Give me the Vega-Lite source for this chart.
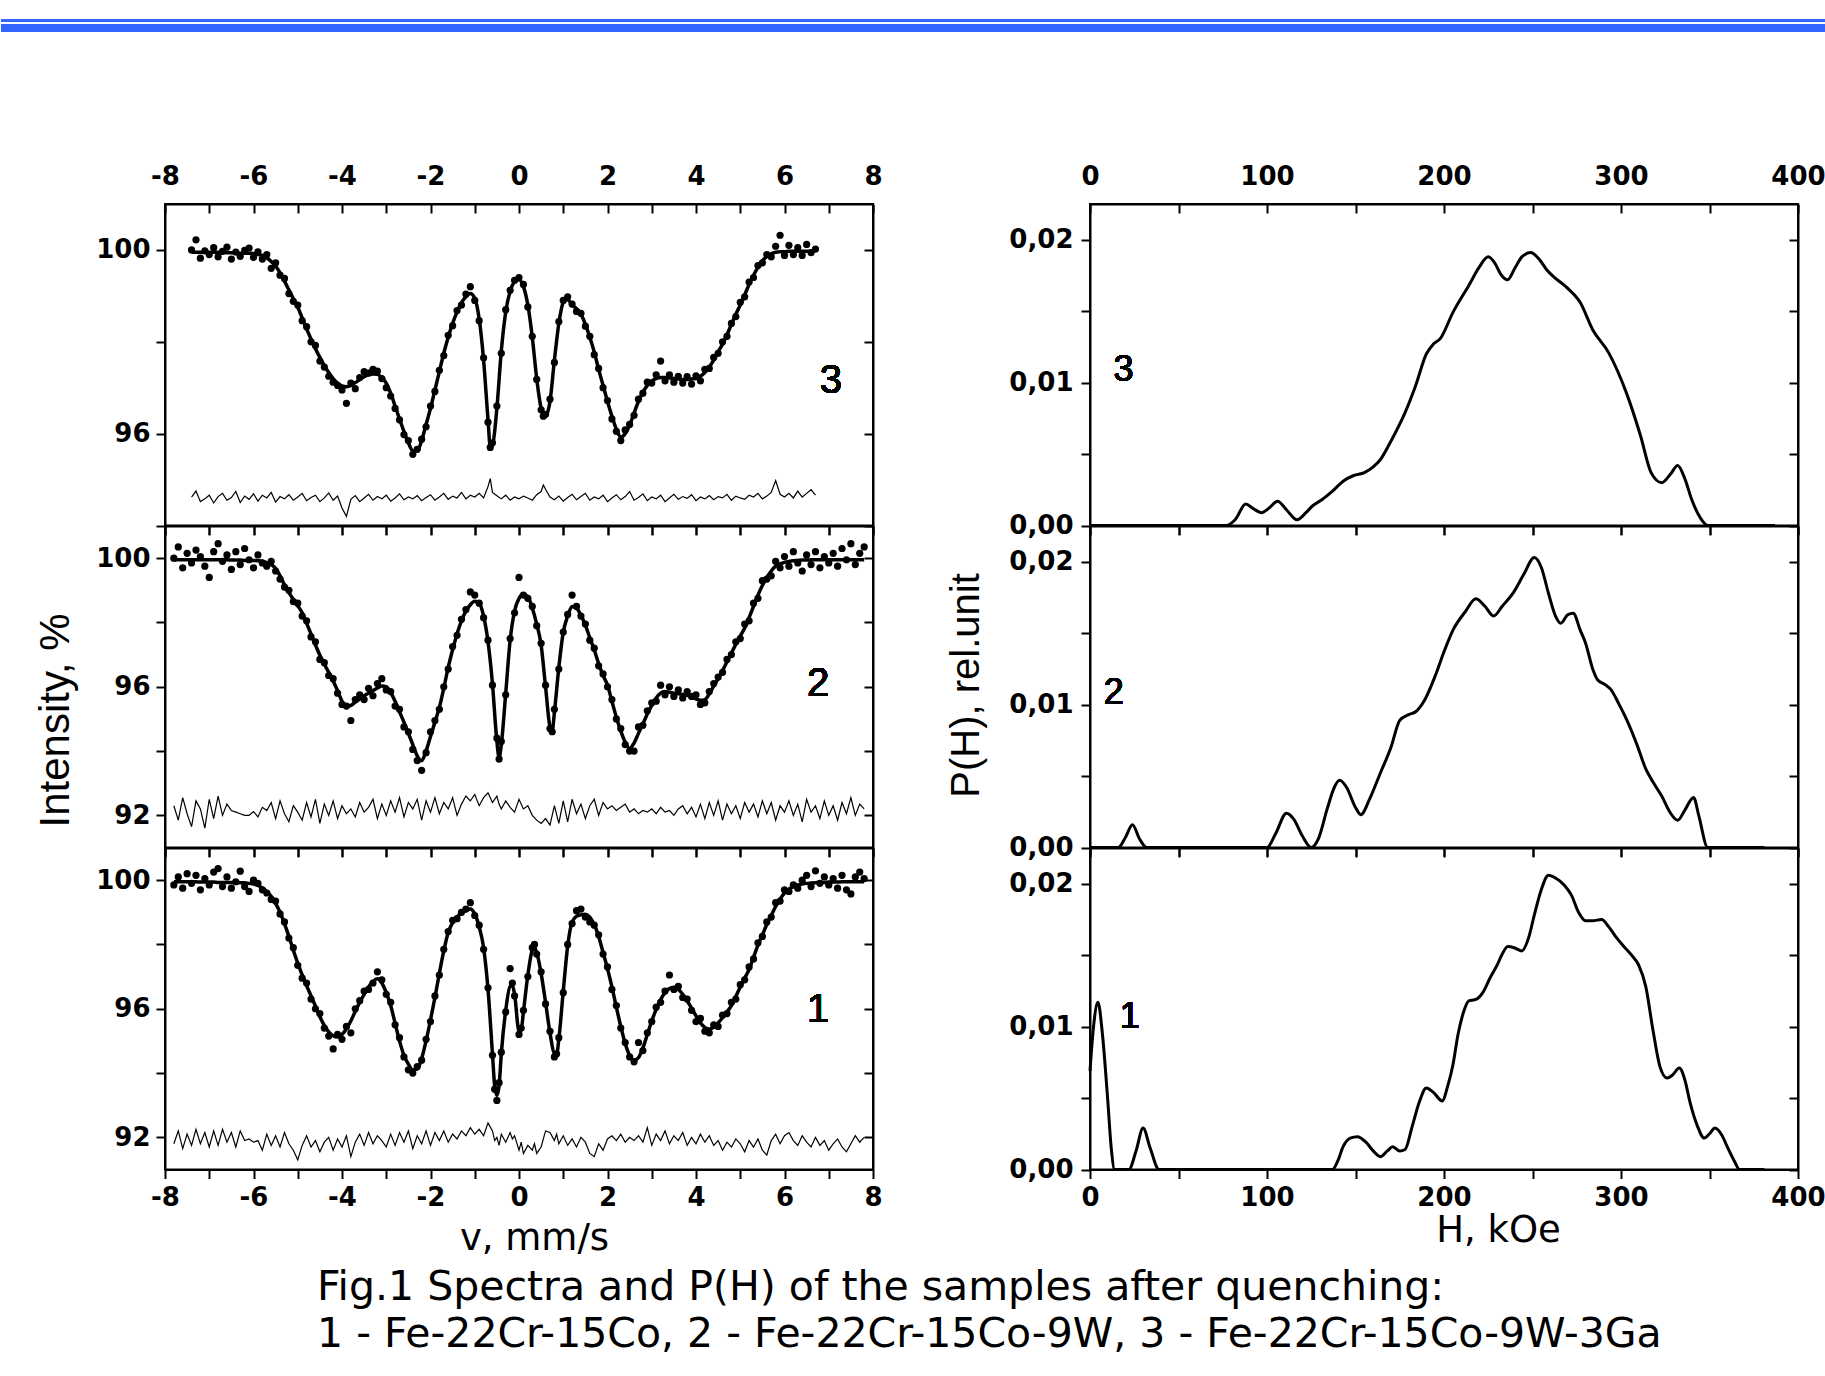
{
"$schema": "https://vega.github.io/schema/vega-lite/v6.json",
"background": "white",
"padding": {"left": 0, "top": 17, "right": 0, "bottom": 0},
"config": {
 "view": {"stroke": "black", "strokeWidth": 2},
 "axis": {"domainColor": "black", "domainWidth": 2, "tickColor": "black", "tickWidth": 2, "labelColor": "black", "labelFont": "DejaVu Sans", "labelFontWeight": "bold", "labelFontSize": 26, "labelFlush": false, "labelOverlap": false, "labelBound": false, "grid": false, "titleColor": "black", "titleFont": "Liberation Sans", "titleFontWeight": "normal", "titleFontSize": 42}
},
"title": {"text": ["Fig.1 Spectra and P(H) of the samples after quenching:", "1 - Fe-22Cr-15Co, 2 - Fe-22Cr-15Co-9W, 3 - Fe-22Cr-15Co-9W-3Ga"], "orient": "bottom", "anchor": "start", "frame": "bounds", "font": "DejaVu Sans", "fontSize": 41, "fontWeight": "normal", "color": "black", "lineHeight": 47, "dx": 317, "offset": 10},
"datasets": {
"s3": [
{"v":-7.4,"f":99.95,"o":100.0,"r":94.62},{"v":-7.3,"f":99.95,"o":100.22,"r":94.75},{"v":-7.2,"f":99.95,"o":99.82,"r":94.52},{"v":-7.1,"f":99.95,"o":99.98,"r":94.58},{"v":-7.0,"f":99.95,"o":99.9,"r":94.66},{"v":-6.9,"f":99.95,"o":100.05,"r":94.49},{"v":-6.8,"f":99.95,"o":99.85,"r":94.63},{"v":-6.7,"f":99.95,"o":99.97,"r":94.7},{"v":-6.6,"f":99.94,"o":100.06,"r":94.55},{"v":-6.5,"f":99.94,"o":99.8,"r":94.61},{"v":-6.4,"f":99.94,"o":99.95,"r":94.74},{"v":-6.3,"f":99.93,"o":99.86,"r":94.5},{"v":-6.2,"f":99.93,"o":99.99,"r":94.64},{"v":-6.1,"f":99.93,"o":100.04,"r":94.57},{"v":-6.0,"f":99.92,"o":99.84,"r":94.69},{"v":-5.9,"f":99.9,"o":99.96,"r":94.53},{"v":-5.8,"f":99.88,"o":99.8,"r":94.66},{"v":-5.7,"f":99.83,"o":99.9,"r":94.6},{"v":-5.6,"f":99.75,"o":99.6,"r":94.72},{"v":-5.5,"f":99.65,"o":99.72,"r":94.51},{"v":-5.4,"f":99.5,"o":99.45,"r":94.63},{"v":-5.3,"f":99.32,"o":99.38,"r":94.58},{"v":-5.2,"f":99.13,"o":99.05,"r":94.67},{"v":-5.1,"f":98.94,"o":98.88,"r":94.55},{"v":-5.0,"f":98.75,"o":98.8,"r":94.62},{"v":-4.9,"f":98.52,"o":98.46,"r":94.7},{"v":-4.8,"f":98.28,"o":98.33,"r":94.54},{"v":-4.7,"f":98.06,"o":98.0,"r":94.61},{"v":-4.6,"f":97.85,"o":97.92,"r":94.66},{"v":-4.5,"f":97.66,"o":97.58,"r":94.52},{"v":-4.4,"f":97.48,"o":97.45,"r":94.6},{"v":-4.3,"f":97.33,"o":97.25,"r":94.71},{"v":-4.2,"f":97.2,"o":97.12,"r":94.55},{"v":-4.1,"f":97.1,"o":97.05,"r":94.64},{"v":-4.0,"f":97.04,"o":96.95,"r":94.38},{"v":-3.9,"f":97.02,"o":96.66,"r":94.2},{"v":-3.8,"f":97.05,"o":97.1,"r":94.57},{"v":-3.7,"f":97.11,"o":96.98,"r":94.65},{"v":-3.6,"f":97.18,"o":97.22,"r":94.52},{"v":-3.5,"f":97.24,"o":97.35,"r":94.6},{"v":-3.4,"f":97.28,"o":97.32,"r":94.68},{"v":-3.3,"f":97.3,"o":97.4,"r":94.55},{"v":-3.2,"f":97.29,"o":97.36,"r":94.63},{"v":-3.1,"f":97.22,"o":97.2,"r":94.58},{"v":-3.0,"f":97.1,"o":97.0,"r":94.66},{"v":-2.9,"f":96.88,"o":96.82,"r":94.53},{"v":-2.8,"f":96.6,"o":96.55,"r":94.6},{"v":-2.7,"f":96.32,"o":96.3,"r":94.69},{"v":-2.6,"f":96.05,"o":95.98,"r":94.56},{"v":-2.5,"f":95.8,"o":95.85,"r":94.62},{"v":-2.4,"f":95.63,"o":95.55,"r":94.58},{"v":-2.3,"f":95.62,"o":95.66,"r":94.65},{"v":-2.2,"f":95.85,"o":95.88,"r":94.54},{"v":-2.1,"f":96.2,"o":96.15,"r":94.61},{"v":-2.0,"f":96.55,"o":96.6,"r":94.67},{"v":-1.9,"f":96.95,"o":96.92,"r":94.55},{"v":-1.8,"f":97.35,"o":97.38,"r":94.62},{"v":-1.7,"f":97.75,"o":97.7,"r":94.7},{"v":-1.6,"f":98.1,"o":98.14,"r":94.57},{"v":-1.5,"f":98.4,"o":98.35,"r":94.64},{"v":-1.4,"f":98.65,"o":98.68,"r":94.6},{"v":-1.3,"f":98.85,"o":98.8,"r":94.72},{"v":-1.2,"f":98.98,"o":99.04,"r":94.58},{"v":-1.1,"f":99.05,"o":99.2,"r":94.66},{"v":-1.0,"f":98.95,"o":98.9,"r":94.62},{"v":-0.9,"f":98.5,"o":98.46,"r":94.7},{"v":-0.8,"f":97.6,"o":97.65,"r":94.6},{"v":-0.7,"f":96.3,"o":96.25,"r":94.85},{"v":-0.65,"f":95.72,"o":95.7,"r":95.02},{"v":-0.6,"f":95.75,"o":95.8,"r":94.72},{"v":-0.5,"f":96.55,"o":96.6,"r":94.65},{"v":-0.4,"f":97.8,"o":97.75,"r":94.58},{"v":-0.3,"f":98.65,"o":98.7,"r":94.66},{"v":-0.2,"f":99.1,"o":99.12,"r":94.55},{"v":-0.1,"f":99.3,"o":99.34,"r":94.62},{"v":0.0,"f":99.35,"o":99.4,"r":94.58},{"v":0.1,"f":99.2,"o":99.25,"r":94.64},{"v":0.2,"f":98.8,"o":98.76,"r":94.6},{"v":0.3,"f":98.1,"o":98.12,"r":94.55},{"v":0.4,"f":97.2,"o":97.18,"r":94.67},{"v":0.5,"f":96.55,"o":96.52,"r":94.74},{"v":0.55,"f":96.4,"o":96.38,"r":94.88},{"v":0.6,"f":96.38,"o":96.42,"r":94.79},{"v":0.7,"f":96.7,"o":96.75,"r":94.62},{"v":0.8,"f":97.6,"o":97.55,"r":94.56},{"v":0.9,"f":98.4,"o":98.44,"r":94.64},{"v":1.0,"f":98.85,"o":98.9,"r":94.53},{"v":1.1,"f":98.92,"o":98.98,"r":94.61},{"v":1.2,"f":98.8,"o":98.82,"r":94.68},{"v":1.3,"f":98.72,"o":98.66,"r":94.56},{"v":1.4,"f":98.6,"o":98.62,"r":94.63},{"v":1.5,"f":98.38,"o":98.34,"r":94.7},{"v":1.6,"f":98.1,"o":98.12,"r":94.55},{"v":1.7,"f":97.78,"o":97.72,"r":94.62},{"v":1.8,"f":97.4,"o":97.42,"r":94.58},{"v":1.9,"f":97.05,"o":97.0,"r":94.66},{"v":2.0,"f":96.7,"o":96.72,"r":94.52},{"v":2.1,"f":96.38,"o":96.32,"r":94.6},{"v":2.2,"f":96.1,"o":96.05,"r":94.67},{"v":2.3,"f":95.92,"o":95.85,"r":94.56},{"v":2.4,"f":96.0,"o":96.08,"r":94.63},{"v":2.5,"f":96.18,"o":96.2,"r":94.74},{"v":2.6,"f":96.45,"o":96.4,"r":94.55},{"v":2.7,"f":96.7,"o":96.75,"r":94.61},{"v":2.8,"f":96.9,"o":96.88,"r":94.69},{"v":2.9,"f":97.05,"o":97.12,"r":94.54},{"v":3.0,"f":97.15,"o":97.1,"r":94.62},{"v":3.1,"f":97.2,"o":97.28,"r":94.58},{"v":3.2,"f":97.22,"o":97.58,"r":94.66},{"v":3.3,"f":97.22,"o":97.15,"r":94.52},{"v":3.4,"f":97.21,"o":97.28,"r":94.6},{"v":3.5,"f":97.2,"o":97.12,"r":94.68},{"v":3.6,"f":97.19,"o":97.25,"r":94.57},{"v":3.7,"f":97.18,"o":97.1,"r":94.63},{"v":3.8,"f":97.18,"o":97.24,"r":94.59},{"v":3.9,"f":97.19,"o":97.08,"r":94.67},{"v":4.0,"f":97.2,"o":97.26,"r":94.54},{"v":4.1,"f":97.25,"o":97.15,"r":94.62},{"v":4.2,"f":97.33,"o":97.4,"r":94.58},{"v":4.3,"f":97.45,"o":97.42,"r":94.65},{"v":4.4,"f":97.6,"o":97.66,"r":94.56},{"v":4.5,"f":97.78,"o":97.75,"r":94.63},{"v":4.6,"f":97.95,"o":98.0,"r":94.6},{"v":4.7,"f":98.15,"o":98.12,"r":94.68},{"v":4.8,"f":98.38,"o":98.4,"r":94.55},{"v":4.9,"f":98.6,"o":98.55,"r":94.64},{"v":5.0,"f":98.8,"o":98.86,"r":94.6},{"v":5.1,"f":99.02,"o":98.98,"r":94.57},{"v":5.2,"f":99.25,"o":99.3,"r":94.66},{"v":5.3,"f":99.45,"o":99.4,"r":94.62},{"v":5.4,"f":99.62,"o":99.66,"r":94.7},{"v":5.5,"f":99.76,"o":99.72,"r":94.58},{"v":5.6,"f":99.86,"o":99.9,"r":94.64},{"v":5.7,"f":99.92,"o":99.85,"r":94.72},{"v":5.8,"f":99.95,"o":100.08,"r":94.98},{"v":5.9,"f":99.96,"o":100.32,"r":94.68},{"v":6.0,"f":99.96,"o":99.88,"r":94.62},{"v":6.1,"f":99.97,"o":100.1,"r":94.7},{"v":6.2,"f":99.97,"o":99.9,"r":94.6},{"v":6.3,"f":99.97,"o":100.05,"r":94.75},{"v":6.4,"f":99.97,"o":99.88,"r":94.62},{"v":6.5,"f":99.97,"o":100.12,"r":94.7},{"v":6.6,"f":99.97,"o":99.94,"r":94.78},{"v":6.7,"f":99.97,"o":100.02,"r":94.66}
],
"s2": [
{"v":-7.8,"f":99.95,"o":100.0,"r":92.3},{"v":-7.7,"f":99.95,"o":100.35,"r":91.85},{"v":-7.6,"f":99.95,"o":99.7,"r":92.55},{"v":-7.5,"f":99.95,"o":100.15,"r":92.05},{"v":-7.4,"f":99.95,"o":99.85,"r":91.65},{"v":-7.3,"f":99.95,"o":100.25,"r":92.45},{"v":-7.2,"f":99.95,"o":100.05,"r":92.2},{"v":-7.1,"f":99.95,"o":99.75,"r":91.6},{"v":-7.0,"f":99.95,"o":99.4,"r":92.5},{"v":-6.9,"f":99.95,"o":100.2,"r":91.9},{"v":-6.8,"f":99.95,"o":100.45,"r":92.6},{"v":-6.7,"f":99.95,"o":99.9,"r":92.0},{"v":-6.6,"f":99.95,"o":100.1,"r":92.35},{"v":-6.5,"f":99.94,"o":99.65,"r":92.15},{"v":-6.4,"f":99.94,"o":100.2,"r":92.1},{"v":-6.3,"f":99.94,"o":99.8,"r":92.05},{"v":-6.2,"f":99.93,"o":100.3,"r":92.0},{"v":-6.1,"f":99.93,"o":99.95,"r":92.0},{"v":-6.0,"f":99.93,"o":99.7,"r":92.12},{"v":-5.9,"f":99.92,"o":100.1,"r":91.95},{"v":-5.8,"f":99.9,"o":99.85,"r":92.25},{"v":-5.7,"f":99.86,"o":99.75,"r":92.15},{"v":-5.6,"f":99.8,"o":99.9,"r":92.4},{"v":-5.5,"f":99.68,"o":99.6,"r":91.9},{"v":-5.4,"f":99.45,"o":99.35,"r":92.45},{"v":-5.3,"f":99.17,"o":99.1,"r":92.05},{"v":-5.2,"f":98.93,"o":99.0,"r":91.8},{"v":-5.1,"f":98.72,"o":98.65,"r":92.3},{"v":-5.0,"f":98.52,"o":98.6,"r":92.1},{"v":-4.9,"f":98.3,"o":98.2,"r":91.85},{"v":-4.8,"f":97.98,"o":98.05,"r":92.4},{"v":-4.7,"f":97.64,"o":97.55,"r":91.95},{"v":-4.6,"f":97.3,"o":97.4,"r":92.5},{"v":-4.5,"f":96.98,"o":96.85,"r":91.75},{"v":-4.4,"f":96.7,"o":96.75,"r":92.35},{"v":-4.3,"f":96.45,"o":96.35,"r":92.0},{"v":-4.2,"f":96.18,"o":96.25,"r":92.45},{"v":-4.1,"f":95.88,"o":95.8,"r":91.9},{"v":-4.0,"f":95.55,"o":95.45,"r":92.3},{"v":-3.9,"f":95.38,"o":95.4,"r":92.05},{"v":-3.8,"f":95.42,"o":94.95,"r":92.2},{"v":-3.7,"f":95.52,"o":95.6,"r":91.95},{"v":-3.6,"f":95.62,"o":95.75,"r":92.4},{"v":-3.5,"f":95.72,"o":95.6,"r":92.1},{"v":-3.4,"f":95.8,"o":95.95,"r":92.25},{"v":-3.3,"f":95.88,"o":95.72,"r":92.5},{"v":-3.2,"f":95.96,"o":96.1,"r":91.9},{"v":-3.1,"f":96.02,"o":96.25,"r":92.35},{"v":-3.0,"f":96.0,"o":95.9,"r":92.0},{"v":-2.9,"f":95.82,"o":95.85,"r":92.45},{"v":-2.8,"f":95.55,"o":95.4,"r":92.1},{"v":-2.7,"f":95.22,"o":95.3,"r":92.55},{"v":-2.6,"f":94.9,"o":94.75,"r":91.95},{"v":-2.5,"f":94.55,"o":94.6,"r":92.4},{"v":-2.4,"f":94.2,"o":94.05,"r":92.2},{"v":-2.3,"f":93.85,"o":93.7,"r":92.5},{"v":-2.2,"f":93.7,"o":93.4,"r":91.85},{"v":-2.1,"f":94.0,"o":93.95,"r":92.45},{"v":-2.0,"f":94.45,"o":94.6,"r":92.1},{"v":-1.9,"f":94.9,"o":94.95,"r":92.55},{"v":-1.8,"f":95.35,"o":95.3,"r":92.05},{"v":-1.7,"f":95.95,"o":96.0,"r":92.4},{"v":-1.6,"f":96.6,"o":96.55,"r":92.2},{"v":-1.5,"f":97.15,"o":97.25,"r":92.55},{"v":-1.4,"f":97.65,"o":97.6,"r":92.0},{"v":-1.3,"f":98.05,"o":98.1,"r":92.35},{"v":-1.2,"f":98.35,"o":98.4,"r":92.6},{"v":-1.1,"f":98.55,"o":98.95,"r":92.45},{"v":-1.0,"f":98.66,"o":98.85,"r":92.65},{"v":-0.9,"f":98.6,"o":98.6,"r":92.3},{"v":-0.8,"f":98.2,"o":98.15,"r":92.55},{"v":-0.7,"f":97.4,"o":97.45,"r":92.7},{"v":-0.6,"f":96.1,"o":96.05,"r":92.4},{"v":-0.5,"f":94.3,"o":94.4,"r":92.6},{"v":-0.45,"f":93.8,"o":93.75,"r":92.35},{"v":-0.4,"f":94.2,"o":94.3,"r":92.2},{"v":-0.3,"f":95.8,"o":95.75,"r":92.45},{"v":-0.2,"f":97.45,"o":97.5,"r":92.25},{"v":-0.1,"f":98.35,"o":98.3,"r":92.1},{"v":0.0,"f":98.75,"o":99.4,"r":92.5},{"v":0.1,"f":98.88,"o":98.85,"r":92.2},{"v":0.2,"f":98.8,"o":98.75,"r":92.3},{"v":0.3,"f":98.45,"o":98.5,"r":92.0},{"v":0.4,"f":97.95,"o":97.9,"r":91.85},{"v":0.5,"f":97.3,"o":97.35,"r":91.75},{"v":0.6,"f":96.0,"o":96.05,"r":91.9},{"v":0.7,"f":94.75,"o":94.7,"r":91.7},{"v":0.75,"f":94.62,"o":94.6,"r":92.0},{"v":0.8,"f":95.2,"o":95.3,"r":92.3},{"v":0.9,"f":96.6,"o":96.55,"r":91.75},{"v":1.0,"f":97.69,"o":97.7,"r":92.45},{"v":1.1,"f":98.2,"o":98.25,"r":91.8},{"v":1.2,"f":98.5,"o":98.85,"r":92.5},{"v":1.3,"f":98.45,"o":98.5,"r":92.05},{"v":1.4,"f":98.22,"o":98.2,"r":92.35},{"v":1.5,"f":97.92,"o":97.95,"r":91.9},{"v":1.6,"f":97.52,"o":97.45,"r":92.3},{"v":1.7,"f":97.15,"o":97.2,"r":92.5},{"v":1.8,"f":96.72,"o":96.65,"r":92.0},{"v":1.9,"f":96.35,"o":96.4,"r":92.4},{"v":2.0,"f":96.05,"o":96.0,"r":92.2},{"v":2.1,"f":95.55,"o":95.6,"r":92.3},{"v":2.2,"f":95.05,"o":95.0,"r":92.15},{"v":2.3,"f":94.62,"o":94.7,"r":92.25},{"v":2.4,"f":94.28,"o":94.2,"r":92.35},{"v":2.5,"f":94.08,"o":94.0,"r":92.1},{"v":2.6,"f":94.25,"o":94.0,"r":92.2},{"v":2.7,"f":94.55,"o":94.75,"r":92.05},{"v":2.8,"f":94.85,"o":94.8,"r":92.15},{"v":2.9,"f":95.15,"o":95.25,"r":92.1},{"v":3.0,"f":95.42,"o":95.5,"r":92.2},{"v":3.1,"f":95.65,"o":95.55,"r":92.05},{"v":3.2,"f":95.8,"o":96.05,"r":92.25},{"v":3.3,"f":95.85,"o":95.75,"r":92.1},{"v":3.4,"f":95.83,"o":96.0,"r":92.15},{"v":3.5,"f":95.8,"o":95.7,"r":92.0},{"v":3.6,"f":95.78,"o":95.9,"r":92.2},{"v":3.7,"f":95.76,"o":95.65,"r":92.3},{"v":3.8,"f":95.73,"o":95.85,"r":92.05},{"v":3.9,"f":95.68,"o":95.7,"r":92.25},{"v":4.0,"f":95.62,"o":95.75,"r":91.95},{"v":4.1,"f":95.58,"o":95.45,"r":92.35},{"v":4.2,"f":95.6,"o":95.5,"r":91.9},{"v":4.3,"f":95.78,"o":95.85,"r":92.4},{"v":4.4,"f":96.02,"o":96.1,"r":92.0},{"v":4.5,"f":96.25,"o":96.3,"r":92.45},{"v":4.6,"f":96.5,"o":96.45,"r":91.85},{"v":4.7,"f":96.78,"o":96.85,"r":92.35},{"v":4.8,"f":97.05,"o":97.0,"r":92.05},{"v":4.9,"f":97.32,"o":97.4,"r":92.3},{"v":5.0,"f":97.58,"o":97.5,"r":91.9},{"v":5.1,"f":97.83,"o":97.95,"r":92.4},{"v":5.2,"f":98.15,"o":98.05,"r":92.1},{"v":5.3,"f":98.5,"o":98.6,"r":92.35},{"v":5.4,"f":98.85,"o":98.75,"r":91.95},{"v":5.5,"f":99.15,"o":99.3,"r":92.45},{"v":5.6,"f":99.4,"o":99.35,"r":92.05},{"v":5.7,"f":99.6,"o":99.45,"r":92.4},{"v":5.8,"f":99.75,"o":99.9,"r":91.85},{"v":5.9,"f":99.82,"o":99.7,"r":92.3},{"v":6.0,"f":99.87,"o":100.05,"r":92.1},{"v":6.1,"f":99.9,"o":99.75,"r":92.45},{"v":6.2,"f":99.92,"o":100.2,"r":92.0},{"v":6.3,"f":99.93,"o":99.85,"r":92.35},{"v":6.4,"f":99.94,"o":99.6,"r":91.8},{"v":6.5,"f":99.94,"o":100.1,"r":92.5},{"v":6.6,"f":99.95,"o":99.8,"r":92.1},{"v":6.7,"f":99.95,"o":100.2,"r":92.3},{"v":6.8,"f":99.95,"o":99.7,"r":91.9},{"v":6.9,"f":99.95,"o":100.05,"r":92.45},{"v":7.0,"f":99.95,"o":99.85,"r":92.0},{"v":7.1,"f":99.95,"o":100.15,"r":92.3},{"v":7.2,"f":99.95,"o":99.75,"r":91.85},{"v":7.3,"f":99.95,"o":100.3,"r":92.4},{"v":7.4,"f":99.95,"o":99.95,"r":92.05},{"v":7.5,"f":99.95,"o":100.45,"r":92.55},{"v":7.6,"f":99.95,"o":99.8,"r":92.0},{"v":7.7,"f":99.95,"o":100.15,"r":92.35},{"v":7.8,"f":99.95,"o":100.35,"r":92.2}
],
"s1": [
{"v":-7.8,"f":99.95,"o":99.85,"r":91.8},{"v":-7.7,"f":99.95,"o":100.1,"r":92.2},{"v":-7.6,"f":99.95,"o":99.75,"r":91.65},{"v":-7.5,"f":99.95,"o":100.2,"r":92.1},{"v":-7.4,"f":99.95,"o":99.9,"r":91.75},{"v":-7.3,"f":99.95,"o":100.15,"r":92.25},{"v":-7.2,"f":99.94,"o":99.7,"r":91.8},{"v":-7.1,"f":99.94,"o":100.05,"r":92.15},{"v":-7.0,"f":99.94,"o":99.85,"r":91.7},{"v":-6.9,"f":99.94,"o":100.25,"r":92.2},{"v":-6.8,"f":99.93,"o":100.36,"r":91.75},{"v":-6.7,"f":99.93,"o":99.8,"r":92.25},{"v":-6.6,"f":99.93,"o":100.1,"r":91.85},{"v":-6.5,"f":99.93,"o":99.75,"r":92.15},{"v":-6.4,"f":99.92,"o":99.95,"r":91.7},{"v":-6.3,"f":99.92,"o":100.28,"r":92.2},{"v":-6.2,"f":99.92,"o":99.8,"r":91.9},{"v":-6.1,"f":99.9,"o":99.65,"r":91.95},{"v":-6.0,"f":99.88,"o":100.0,"r":91.85},{"v":-5.9,"f":99.84,"o":99.9,"r":91.9},{"v":-5.8,"f":99.76,"o":99.7,"r":91.6},{"v":-5.7,"f":99.65,"o":99.6,"r":92.1},{"v":-5.6,"f":99.5,"o":99.4,"r":91.75},{"v":-5.5,"f":99.28,"o":99.35,"r":92.05},{"v":-5.4,"f":99.0,"o":98.95,"r":91.7},{"v":-5.3,"f":98.65,"o":98.7,"r":92.15},{"v":-5.2,"f":98.25,"o":98.2,"r":91.8},{"v":-5.1,"f":97.82,"o":97.9,"r":91.6},{"v":-5.0,"f":97.42,"o":97.35,"r":91.3},{"v":-4.9,"f":97.05,"o":96.95,"r":91.75},{"v":-4.8,"f":96.72,"o":96.8,"r":92.05},{"v":-4.7,"f":96.4,"o":96.3,"r":91.7},{"v":-4.6,"f":96.08,"o":96.0,"r":91.9},{"v":-4.5,"f":95.75,"o":95.85,"r":91.55},{"v":-4.4,"f":95.48,"o":95.4,"r":91.85},{"v":-4.3,"f":95.28,"o":95.15,"r":92.0},{"v":-4.2,"f":95.16,"o":94.75,"r":91.6},{"v":-4.1,"f":95.12,"o":95.2,"r":91.95},{"v":-4.0,"f":95.2,"o":95.05,"r":91.7},{"v":-3.9,"f":95.38,"o":95.45,"r":92.05},{"v":-3.8,"f":95.62,"o":95.25,"r":91.4},{"v":-3.7,"f":95.92,"o":96.0,"r":91.85},{"v":-3.6,"f":96.2,"o":96.25,"r":92.1},{"v":-3.5,"f":96.45,"o":96.55,"r":91.75},{"v":-3.4,"f":96.68,"o":96.6,"r":92.15},{"v":-3.3,"f":96.85,"o":96.8,"r":91.8},{"v":-3.2,"f":96.93,"o":97.15,"r":92.05},{"v":-3.1,"f":96.8,"o":96.9,"r":91.9},{"v":-3.0,"f":96.5,"o":96.45,"r":91.7},{"v":-2.9,"f":96.1,"o":96.2,"r":92.1},{"v":-2.8,"f":95.55,"o":95.5,"r":91.75},{"v":-2.7,"f":95.0,"o":95.1,"r":92.15},{"v":-2.6,"f":94.55,"o":94.5,"r":91.85},{"v":-2.5,"f":94.28,"o":94.1,"r":92.2},{"v":-2.4,"f":94.1,"o":94.0,"r":91.65},{"v":-2.3,"f":94.12,"o":94.2,"r":92.05},{"v":-2.2,"f":94.45,"o":94.4,"r":91.8},{"v":-2.1,"f":95.0,"o":95.05,"r":92.2},{"v":-2.0,"f":95.65,"o":95.6,"r":91.75},{"v":-1.9,"f":96.35,"o":96.4,"r":92.15},{"v":-1.8,"f":97.1,"o":97.05,"r":91.9},{"v":-1.7,"f":97.8,"o":97.85,"r":92.2},{"v":-1.6,"f":98.37,"o":98.4,"r":91.85},{"v":-1.5,"f":98.68,"o":98.75,"r":92.1},{"v":-1.4,"f":98.86,"o":98.8,"r":91.95},{"v":-1.3,"f":98.98,"o":99.0,"r":92.2},{"v":-1.2,"f":99.05,"o":99.1,"r":92.05},{"v":-1.1,"f":99.1,"o":99.3,"r":92.3},{"v":-1.0,"f":98.95,"o":98.9,"r":92.1},{"v":-0.9,"f":98.55,"o":98.6,"r":92.25},{"v":-0.8,"f":97.9,"o":97.85,"r":92.05},{"v":-0.7,"f":96.6,"o":96.65,"r":92.45},{"v":-0.6,"f":94.6,"o":94.55,"r":92.2},{"v":-0.55,"f":93.6,"o":93.5,"r":91.9},{"v":-0.5,"f":93.3,"o":93.15,"r":92.0},{"v":-0.45,"f":93.6,"o":93.7,"r":91.75},{"v":-0.4,"f":94.6,"o":94.65,"r":92.1},{"v":-0.3,"f":95.95,"o":95.9,"r":91.85},{"v":-0.2,"f":96.7,"o":97.25,"r":92.15},{"v":-0.15,"f":96.72,"o":96.8,"r":91.95},{"v":-0.1,"f":96.45,"o":96.4,"r":92.05},{"v":0.0,"f":95.3,"o":95.2,"r":91.6},{"v":0.05,"f":95.35,"o":95.4,"r":91.85},{"v":0.1,"f":95.9,"o":95.95,"r":91.5},{"v":0.2,"f":97.05,"o":97.0,"r":91.75},{"v":0.3,"f":97.82,"o":97.9,"r":91.6},{"v":0.35,"f":97.9,"o":98.0,"r":91.8},{"v":0.4,"f":97.75,"o":97.7,"r":91.5},{"v":0.5,"f":97.1,"o":97.15,"r":91.7},{"v":0.6,"f":96.2,"o":96.15,"r":92.2},{"v":0.7,"f":95.25,"o":95.3,"r":92.15},{"v":0.8,"f":94.6,"o":94.5,"r":91.9},{"v":0.85,"f":94.58,"o":94.6,"r":92.1},{"v":0.9,"f":95.05,"o":95.1,"r":91.8},{"v":1.0,"f":96.55,"o":96.5,"r":92.05},{"v":1.1,"f":97.95,"o":98.0,"r":91.75},{"v":1.2,"f":98.7,"o":98.65,"r":91.95},{"v":1.3,"f":98.88,"o":99.05,"r":91.7},{"v":1.4,"f":98.92,"o":99.1,"r":92.0},{"v":1.5,"f":98.94,"o":98.85,"r":91.85},{"v":1.6,"f":98.85,"o":98.7,"r":91.5},{"v":1.7,"f":98.62,"o":98.6,"r":91.4},{"v":1.8,"f":98.25,"o":98.3,"r":91.8},{"v":1.9,"f":97.75,"o":97.7,"r":91.6},{"v":2.0,"f":97.25,"o":97.3,"r":91.95},{"v":2.1,"f":96.68,"o":96.6,"r":92.05},{"v":2.2,"f":96.05,"o":96.1,"r":91.9},{"v":2.3,"f":95.45,"o":95.4,"r":92.1},{"v":2.4,"f":94.92,"o":94.95,"r":91.85},{"v":2.5,"f":94.55,"o":94.5,"r":92.0},{"v":2.6,"f":94.4,"o":94.35,"r":91.9},{"v":2.7,"f":94.48,"o":94.95,"r":92.05},{"v":2.8,"f":94.78,"o":94.7,"r":91.85},{"v":2.9,"f":95.2,"o":95.25,"r":92.3},{"v":3.0,"f":95.62,"o":95.6,"r":91.75},{"v":3.1,"f":95.98,"o":96.05,"r":92.1},{"v":3.2,"f":96.28,"o":96.2,"r":91.9},{"v":3.3,"f":96.5,"o":96.55,"r":92.2},{"v":3.4,"f":96.63,"o":97.05,"r":91.8},{"v":3.5,"f":96.67,"o":96.6,"r":92.05},{"v":3.6,"f":96.6,"o":96.7,"r":91.9},{"v":3.7,"f":96.45,"o":96.35,"r":92.15},{"v":3.8,"f":96.25,"o":96.3,"r":91.75},{"v":3.9,"f":96.02,"o":95.95,"r":92.0},{"v":4.0,"f":95.78,"o":95.6,"r":91.8},{"v":4.1,"f":95.56,"o":95.7,"r":92.1},{"v":4.2,"f":95.42,"o":95.3,"r":91.85},{"v":4.3,"f":95.37,"o":95.25,"r":92.05},{"v":4.4,"f":95.42,"o":95.5,"r":91.75},{"v":4.5,"f":95.56,"o":95.45,"r":91.9},{"v":4.6,"f":95.72,"o":95.8,"r":91.6},{"v":4.7,"f":95.9,"o":95.85,"r":91.85},{"v":4.8,"f":96.1,"o":96.2,"r":91.7},{"v":4.9,"f":96.38,"o":96.3,"r":91.95},{"v":5.0,"f":96.68,"o":96.75,"r":91.8},{"v":5.1,"f":96.95,"o":96.9,"r":91.55},{"v":5.2,"f":97.22,"o":97.3,"r":91.9},{"v":5.3,"f":97.6,"o":97.55,"r":91.7},{"v":5.4,"f":97.98,"o":98.05,"r":91.95},{"v":5.5,"f":98.3,"o":98.25,"r":91.6},{"v":5.6,"f":98.62,"o":98.7,"r":91.45},{"v":5.7,"f":98.9,"o":98.85,"r":91.9},{"v":5.8,"f":99.18,"o":99.3,"r":92.1},{"v":5.9,"f":99.41,"o":99.35,"r":91.8},{"v":6.0,"f":99.6,"o":99.7,"r":92.05},{"v":6.1,"f":99.72,"o":99.65,"r":92.15},{"v":6.2,"f":99.8,"o":99.85,"r":91.9},{"v":6.3,"f":99.85,"o":99.75,"r":91.75},{"v":6.4,"f":99.88,"o":100.0,"r":92.05},{"v":6.5,"f":99.9,"o":100.15,"r":91.85},{"v":6.6,"f":99.91,"o":99.8,"r":91.7},{"v":6.7,"f":99.92,"o":100.29,"r":92.0},{"v":6.8,"f":99.93,"o":99.9,"r":91.75},{"v":6.9,"f":99.93,"o":100.1,"r":91.9},{"v":7.0,"f":99.94,"o":99.85,"r":91.6},{"v":7.1,"f":99.94,"o":100.05,"r":91.8},{"v":7.2,"f":99.94,"o":99.75,"r":91.95},{"v":7.3,"f":99.95,"o":100.15,"r":91.7},{"v":7.4,"f":99.95,"o":99.7,"r":91.55},{"v":7.5,"f":99.95,"o":99.57,"r":91.8},{"v":7.6,"f":99.95,"o":100.1,"r":92.05},{"v":7.7,"f":99.95,"o":100.25,"r":91.85},{"v":7.8,"f":99.95,"o":100.05,"r":92.0}
],
"h3": [
{"H":0,"p":0},{"H":77,"p":0},{"H":82,"p":0.0004},{"H":88,"p":0.0015},{"H":92,"p":0.0012},{"H":97,"p":0.0009},{"H":101,"p":0.0012},{"H":106,"p":0.0017},{"H":111,"p":0.0011},{"H":117,"p":0.0004},{"H":122,"p":0.0009},{"H":126,"p":0.0014},{"H":131,"p":0.0018},{"H":137,"p":0.0024},{"H":143,"p":0.0031},{"H":149,"p":0.0035},{"H":155,"p":0.0037},{"H":160,"p":0.0041},{"H":164,"p":0.0046},{"H":170,"p":0.0059},{"H":178,"p":0.0079},{"H":184,"p":0.0098},{"H":190,"p":0.012},{"H":194,"p":0.0127},{"H":198,"p":0.0131},{"H":205,"p":0.0149},{"H":214,"p":0.0168},{"H":220,"p":0.0181},{"H":225,"p":0.0188},{"H":229,"p":0.0183},{"H":232,"p":0.0176},{"H":236,"p":0.0172},{"H":240,"p":0.018},{"H":244,"p":0.0188},{"H":249,"p":0.0191},{"H":254,"p":0.0186},{"H":258,"p":0.0179},{"H":262,"p":0.0174},{"H":269,"p":0.0167},{"H":277,"p":0.0156},{"H":284,"p":0.0137},{"H":293,"p":0.0121},{"H":303,"p":0.0093},{"H":311,"p":0.0063},{"H":317,"p":0.0037},{"H":323,"p":0.003},{"H":328,"p":0.0036},{"H":332,"p":0.0042},{"H":336,"p":0.0033},{"H":340,"p":0.0018},{"H":345,"p":0.0005},{"H":349,"p":0},{"H":387,"p":0}
],
"h2": [
{"H":0,"p":0},{"H":16,"p":0},{"H":20,"p":0.0007},{"H":24,"p":0.0016},{"H":28,"p":0.0006},{"H":32,"p":0},{"H":100,"p":0},{"H":105,"p":0.001},{"H":111,"p":0.0024},{"H":115,"p":0.002},{"H":120,"p":0.0008},{"H":125,"p":0},{"H":129,"p":0.0006},{"H":134,"p":0.0027},{"H":138,"p":0.0042},{"H":141,"p":0.0047},{"H":145,"p":0.0042},{"H":150,"p":0.0028},{"H":153,"p":0.0023},{"H":158,"p":0.0034},{"H":164,"p":0.0052},{"H":170,"p":0.007},{"H":175,"p":0.0089},{"H":180,"p":0.0093},{"H":184,"p":0.0095},{"H":189,"p":0.0103},{"H":195,"p":0.012},{"H":200,"p":0.0137},{"H":205,"p":0.0152},{"H":212,"p":0.0165},{"H":218,"p":0.0174},{"H":223,"p":0.0169},{"H":228,"p":0.0162},{"H":233,"p":0.0169},{"H":239,"p":0.0178},{"H":245,"p":0.0191},{"H":251,"p":0.0203},{"H":255,"p":0.0196},{"H":259,"p":0.0178},{"H":263,"p":0.0162},{"H":266,"p":0.0157},{"H":270,"p":0.0163},{"H":273,"p":0.0164},{"H":277,"p":0.0152},{"H":280,"p":0.0143},{"H":284,"p":0.0125},{"H":287,"p":0.0117},{"H":291,"p":0.0114},{"H":294,"p":0.0111},{"H":299,"p":0.01},{"H":303,"p":0.009},{"H":309,"p":0.0072},{"H":314,"p":0.0055},{"H":318,"p":0.0046},{"H":323,"p":0.0036},{"H":328,"p":0.0024},{"H":332,"p":0.0019},{"H":336,"p":0.0026},{"H":341,"p":0.0035},{"H":344,"p":0.0022},{"H":349,"p":0},{"H":381,"p":0}
],
"h1": [
{"H":0,"p":0.0069},{"H":2,"p":0.01},{"H":4.5,"p":0.0117},{"H":7,"p":0.0095},{"H":10,"p":0.0049},{"H":12,"p":0.0015},{"H":14,"p":0},{"H":22,"p":0},{"H":26,"p":0.0013},{"H":30,"p":0.0029},{"H":34,"p":0.0015},{"H":39,"p":0},{"H":137,"p":0},{"H":140,"p":0.0006},{"H":143,"p":0.0016},{"H":147,"p":0.0022},{"H":151,"p":0.0023},{"H":156,"p":0.0019},{"H":160,"p":0.0013},{"H":164,"p":0.0009},{"H":168,"p":0.0013},{"H":171,"p":0.0016},{"H":175,"p":0.0013},{"H":178,"p":0.0014},{"H":182,"p":0.003},{"H":186,"p":0.0047},{"H":190,"p":0.0057},{"H":194,"p":0.0054},{"H":199,"p":0.0048},{"H":202,"p":0.0058},{"H":205,"p":0.0073},{"H":208,"p":0.0095},{"H":211,"p":0.011},{"H":214,"p":0.0118},{"H":218,"p":0.0119},{"H":222,"p":0.0124},{"H":226,"p":0.0134},{"H":230,"p":0.0143},{"H":233,"p":0.0151},{"H":236,"p":0.0156},{"H":240,"p":0.0155},{"H":244,"p":0.0153},{"H":248,"p":0.0163},{"H":251,"p":0.0178},{"H":255,"p":0.0196},{"H":259,"p":0.0206},{"H":263,"p":0.0204},{"H":268,"p":0.0199},{"H":272,"p":0.0192},{"H":276,"p":0.018},{"H":280,"p":0.0174},{"H":284,"p":0.0174},{"H":289,"p":0.0175},{"H":293,"p":0.017},{"H":297,"p":0.0163},{"H":301,"p":0.0157},{"H":306,"p":0.015},{"H":310,"p":0.0143},{"H":314,"p":0.0128},{"H":318,"p":0.0098},{"H":322,"p":0.0072},{"H":326,"p":0.0064},{"H":329,"p":0.0066},{"H":333,"p":0.0071},{"H":336,"p":0.0063},{"H":339,"p":0.0047},{"H":343,"p":0.0031},{"H":347,"p":0.0022},{"H":350,"p":0.0025},{"H":353,"p":0.0029},{"H":357,"p":0.0024},{"H":360,"p":0.0016},{"H":364,"p":0.0006},{"H":367,"p":0},{"H":381,"p":0}
]
},
"columns": 2,
"spacing": {"row": 0, "column": 217},
"bounds": "flush",
"concat": [
{
 "width": 708, "height": 321.5,
 "data": {"name": "s3"},
 "layer": [
  {"mark": {"type": "rect", "color": "#3366ff"},
   "encoding": {"x": {"datum": -11.706, "type": "quantitative", "scale": {"domain": [-8, 8], "nice": false, "zero": false}, "axis": null}, "x2": {"datum": 29.537}, "y": {"datum": 105.028, "type": "quantitative", "scale": {"domain": [94, 101], "nice": false, "zero": false}, "axis": null}, "y2": {"datum": 104.974}}},
  {"mark": {"type": "rect", "color": "#3366ff"},
   "encoding": {"x": {"datum": -11.706, "type": "quantitative", "axis": null}, "x2": {"datum": 29.537}, "y": {"datum": 104.913, "type": "quantitative", "axis": null}, "y2": {"datum": 104.751}}},
  {"mark": {"type": "circle", "color": "black", "size": 52, "opacity": 1},
   "encoding": {"x": {"field": "v", "type": "quantitative", "axis": {"orient": "top", "values": [-8,-7,-6,-5,-4,-3,-2,-1,0,1,2,3,4,5,6,7,8], "labelExpr": "datum.value % 2 == 0 ? (datum.value < 0 ? '-' : '') + abs(datum.value) : ''", "tickSize": -9, "labelPadding": 24, "title": null}},
    "y": {"field": "o", "type": "quantitative", "axis": {"orient": "right", "values": [94,96,98,100], "labels": false, "tickSize": -9, "title": null}}}},
  {"mark": {"type": "line", "color": "black", "strokeWidth": 3.5, "interpolate": "monotone"},
   "encoding": {"x": {"field": "v", "type": "quantitative", "axis": {"orient": "bottom", "values": [-8,-7,-6,-5,-4,-3,-2,-1,0,1,2,3,4,5,6,7,8], "labels": false, "tickSize": 9, "title": null}},
    "y": {"field": "f", "type": "quantitative", "axis": {"orient": "left", "values": [94,96,98,100], "labelExpr": "datum.value % 4 == 0 ? datum.label : ''", "tickSize": 9, "labelPadding": 6, "title": null}}}},
  {"mark": {"type": "line", "color": "black", "strokeWidth": 1.2},
   "encoding": {"x": {"field": "v", "type": "quantitative", "axis": null}, "y": {"field": "r", "type": "quantitative", "axis": null}}},
  {"mark": {"type": "text", "font": "Liberation Sans", "fontSize": 40, "fontWeight": "normal", "color": "black", "align": "center", "baseline": "middle"},
   "encoding": {"x": {"datum": 7.05, "type": "quantitative", "axis": null}, "y": {"datum": 97.15, "type": "quantitative", "axis": null}, "text": {"value": "3"}}}
 ],
 "resolve": {"axis": {"x": "independent", "y": "independent"}}
},
{
 "width": 708, "height": 321.5,
 "data": {"name": "h3"},
 "layer": [
  {"mark": {"type": "line", "color": "black", "strokeWidth": 3, "interpolate": "monotone"},
   "encoding": {"x": {"field": "H", "type": "quantitative", "scale": {"domain": [0, 400], "nice": false}, "axis": {"orient": "bottom", "values": [0,50,100,150,200,250,300,350,400], "labels": false, "tickSize": 9, "title": null}},
    "y": {"field": "p", "type": "quantitative", "scale": {"domain": [0, 0.0225], "nice": false}, "axis": {"orient": "left", "values": [0,0.005,0.01,0.015,0.02], "labelExpr": "round(datum.value*1000) % 10 == 0 ? replace(format(datum.value, '.2f'), '.', ',') : ''", "tickSize": 9, "labelPadding": 8, "title": null}}}},
  {"mark": {"type": "text", "font": "Liberation Sans", "fontSize": 36, "fontWeight": "normal", "color": "black", "align": "center", "baseline": "middle"},
   "encoding": {"x": {"datum": 19, "type": "quantitative", "axis": {"orient": "top", "values": [0,50,100,150,200,250,300,350,400], "labelExpr": "datum.value % 100 == 0 ? datum.label : ''", "tickSize": -9, "labelPadding": 24, "title": null}},
    "y": {"datum": 0.0109, "type": "quantitative", "axis": {"orient": "right", "values": [0,0.005,0.01,0.015,0.02], "labels": false, "tickSize": -9, "title": null}}, "text": {"value": "3"}}}
 ],
 "resolve": {"axis": {"x": "independent", "y": "independent"}}
},
{
 "width": 708, "height": 321.5,
 "data": {"name": "s2"},
 "layer": [
  {"mark": {"type": "circle", "color": "black", "size": 52, "opacity": 1},
   "encoding": {"x": {"field": "v", "type": "quantitative", "scale": {"domain": [-8, 8], "nice": false, "zero": false}, "axis": {"orient": "top", "values": [-8,-7,-6,-5,-4,-3,-2,-1,0,1,2,3,4,5,6,7,8], "labels": false, "tickSize": -9, "title": null}},
    "y": {"field": "o", "type": "quantitative", "scale": {"domain": [91, 101], "nice": false, "zero": false}, "axis": {"orient": "right", "values": [92,94,96,98,100], "labels": false, "tickSize": -9, "title": null}}}},
  {"mark": {"type": "line", "color": "black", "strokeWidth": 3.5, "interpolate": "monotone"},
   "encoding": {"x": {"field": "v", "type": "quantitative", "axis": {"orient": "bottom", "values": [-8,-7,-6,-5,-4,-3,-2,-1,0,1,2,3,4,5,6,7,8], "labels": false, "tickSize": 9, "title": null}},
    "y": {"field": "f", "type": "quantitative", "axis": {"orient": "left", "values": [92,94,96,98,100], "labelExpr": "datum.value % 4 == 0 ? datum.label : ''", "tickSize": 9, "labelPadding": 6, "title": "Intensity, %", "titleX": -97, "titleY": 194, "titleBaseline": "alphabetic", "titleAngle": 270}}}},
  {"mark": {"type": "line", "color": "black", "strokeWidth": 1.2},
   "encoding": {"x": {"field": "v", "type": "quantitative", "axis": null}, "y": {"field": "r", "type": "quantitative", "axis": null}}},
  {"mark": {"type": "text", "font": "Liberation Sans", "fontSize": 40, "fontWeight": "normal", "color": "black", "align": "center", "baseline": "middle"},
   "encoding": {"x": {"datum": 6.76, "type": "quantitative", "axis": null}, "y": {"datum": 96.08, "type": "quantitative", "axis": null}, "text": {"value": "2"}}}
 ],
 "resolve": {"axis": {"x": "independent", "y": "independent"}}
},
{
 "width": 708, "height": 321.5,
 "data": {"name": "h2"},
 "layer": [
  {"mark": {"type": "line", "color": "black", "strokeWidth": 3, "interpolate": "monotone"},
   "encoding": {"x": {"field": "H", "type": "quantitative", "scale": {"domain": [0, 400], "nice": false}, "axis": {"orient": "bottom", "values": [0,50,100,150,200,250,300,350,400], "labels": false, "tickSize": 9, "title": null}},
    "y": {"field": "p", "type": "quantitative", "scale": {"domain": [0, 0.0225], "nice": false}, "axis": {"orient": "left", "values": [0,0.005,0.01,0.015,0.02], "labelExpr": "round(datum.value*1000) % 10 == 0 ? replace(format(datum.value, '.2f'), '.', ',') : ''", "tickSize": 9, "labelPadding": 8, "title": "P(H), rel.unit", "titleFontSize": 40, "titleX": -112, "titleY": 159, "titleBaseline": "alphabetic", "titleAngle": 270}}}},
  {"mark": {"type": "text", "font": "Liberation Sans", "fontSize": 36, "fontWeight": "normal", "color": "black", "align": "center", "baseline": "middle"},
   "encoding": {"x": {"datum": 13.4, "type": "quantitative", "axis": {"orient": "top", "values": [0,50,100,150,200,250,300,350,400], "labels": false, "tickSize": -9, "title": null}},
    "y": {"datum": 0.0108, "type": "quantitative", "axis": {"orient": "right", "values": [0,0.005,0.01,0.015,0.02], "labels": false, "tickSize": -9, "title": null}}, "text": {"value": "2"}}}
 ],
 "resolve": {"axis": {"x": "independent", "y": "independent"}}
},
{
 "width": 708, "height": 321.5,
 "data": {"name": "s1"},
 "layer": [
  {"mark": {"type": "circle", "color": "black", "size": 52, "opacity": 1},
   "encoding": {"x": {"field": "v", "type": "quantitative", "scale": {"domain": [-8, 8], "nice": false, "zero": false}, "axis": {"orient": "top", "values": [-8,-7,-6,-5,-4,-3,-2,-1,0,1,2,3,4,5,6,7,8], "labels": false, "tickSize": -9, "title": null}},
    "y": {"field": "o", "type": "quantitative", "scale": {"domain": [91, 101], "nice": false, "zero": false}, "axis": {"orient": "right", "values": [92,94,96,98,100], "labels": false, "tickSize": -9, "title": null}}}},
  {"mark": {"type": "line", "color": "black", "strokeWidth": 3.5, "interpolate": "monotone"},
   "encoding": {"x": {"field": "v", "type": "quantitative", "axis": {"orient": "bottom", "values": [-8,-7,-6,-5,-4,-3,-2,-1,0,1,2,3,4,5,6,7,8], "labelExpr": "datum.value % 2 == 0 ? (datum.value < 0 ? '-' : '') + abs(datum.value) : ''", "tickSize": 9, "labelPadding": 6, "title": "v, mm/s", "titleFont": "DejaVu Sans", "titleFontSize": 37, "titleX": 369, "titleY": 80, "titleBaseline": "alphabetic"}},
    "y": {"field": "f", "type": "quantitative", "axis": {"orient": "left", "values": [92,94,96,98,100], "labelExpr": "datum.value % 4 == 0 ? datum.label : ''", "tickSize": 9, "labelPadding": 6, "title": null}}}},
  {"mark": {"type": "line", "color": "black", "strokeWidth": 1.2},
   "encoding": {"x": {"field": "v", "type": "quantitative", "axis": null}, "y": {"field": "r", "type": "quantitative", "axis": null}}},
  {"mark": {"type": "text", "font": "Liberation Sans", "fontSize": 40, "fontWeight": "normal", "color": "black", "align": "center", "baseline": "middle"},
   "encoding": {"x": {"datum": 6.76, "type": "quantitative", "axis": null}, "y": {"datum": 95.95, "type": "quantitative", "axis": null}, "text": {"value": "1"}}}
 ],
 "resolve": {"axis": {"x": "independent", "y": "independent"}}
},
{
 "width": 708, "height": 321.5,
 "data": {"name": "h1"},
 "layer": [
  {"mark": {"type": "line", "color": "black", "strokeWidth": 3, "interpolate": "monotone"},
   "encoding": {"x": {"field": "H", "type": "quantitative", "scale": {"domain": [0, 400], "nice": false}, "axis": {"orient": "bottom", "values": [0,50,100,150,200,250,300,350,400], "labelExpr": "datum.value % 100 == 0 ? datum.label : ''", "tickSize": 9, "labelPadding": 6, "title": "H, kOe", "titleFont": "DejaVu Sans", "titleFontSize": 37, "titleX": 408, "titleY": 72, "titleBaseline": "alphabetic"}},
    "y": {"field": "p", "type": "quantitative", "scale": {"domain": [0, 0.0225], "nice": false}, "axis": {"orient": "left", "values": [0,0.005,0.01,0.015,0.02], "labelExpr": "round(datum.value*1000) % 10 == 0 ? replace(format(datum.value, '.2f'), '.', ',') : ''", "tickSize": 9, "labelPadding": 8, "title": null}}}},
  {"mark": {"type": "text", "font": "Liberation Sans", "fontSize": 36, "fontWeight": "normal", "color": "black", "align": "center", "baseline": "middle"},
   "encoding": {"x": {"datum": 22.4, "type": "quantitative", "axis": {"orient": "top", "values": [0,50,100,150,200,250,300,350,400], "labels": false, "tickSize": -9, "title": null}},
    "y": {"datum": 0.0107, "type": "quantitative", "axis": {"orient": "right", "values": [0,0.005,0.01,0.015,0.02], "labels": false, "tickSize": -9, "title": null}}, "text": {"value": "1"}}}
 ],
 "resolve": {"axis": {"x": "independent", "y": "independent"}}
}
]
}
